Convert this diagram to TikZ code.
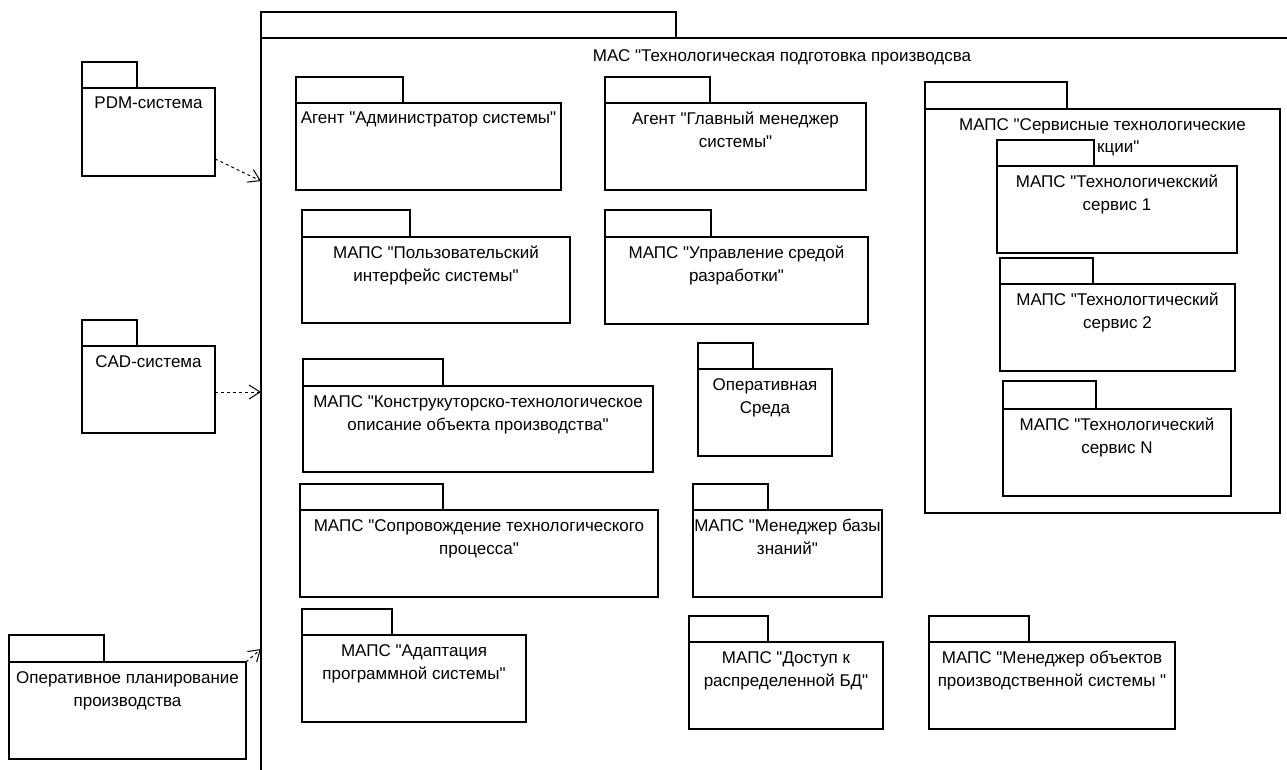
\documentclass[tikz,border=0pt]{standalone}
\usepackage{fontspec}
\setmainfont{Liberation Sans}[Ligatures=TeXOff]
\usetikzlibrary{arrows.meta}
\tikzset{
 pkgbox/.style={draw=black, fill=white, line width=1.1pt, inner sep=0pt, outer sep=0pt, anchor=north west},
 pkgtext/.style={align=center, inner sep=0pt, anchor=north, font=\fontsize{17}{23}\selectfont},
 dep/.style={draw=black, line width=1pt, dash pattern=on 3pt off 3pt, -{Straight Barb[length=11pt,width=14pt,line width=1pt]}}
}
\newcommand\pkg[8]{%
 \node[pkgbox, minimum width={#3-#2}, minimum height={#5-#4}] (#1tab) at (#2,#4) {};
 \node[pkgbox, minimum width={#6-#2}, minimum height={#7-#5}] (#1) at (#2,#5) {};
 \node[pkgtext] (#1txt) at ({(#2+#6)/2},{#5+9}) {#8};
}
\begin{document}
\begin{tikzpicture}[x=1pt,y=-1pt]
\useasboundingbox[fill=white] (0,0) rectangle (1287,769);
\clip (0,0) rectangle (1287,769);
% main package
\node[pkgbox, minimum width=415, minimum height=26] (mastab) at (261,12) {};
\node[pkgbox, minimum width=1100, minimum height=800] (mas) at (261,38) {};
\node[pkgtext] (mastitle) at (782,49) {МАС "Технологическая подготовка производсва};
% external packages
\pkg{pdm}{82}{137}{62}{88}{215}{176}{PDM-система}
\pkg{cad}{82}{137}{320}{346}{215}{433}{CAD-система}
\pkg{opl}{9}{104}{635}{662}{246}{759}{Оперативное планирование\\производства}
% inner packages
\pkg{admin}{296}{403}{77}{103}{561}{190}{Агент "Администратор системы"}
\pkg{glav}{605}{710}{77}{103}{866}{190}{Агент "Главный менеджер\\системы"}
\pkg{svc}{925}{1067}{82}{109}{1280}{513}{МАПС "Сервисные технологические}
\node[pkgtext, anchor=north west] (svctitle2) at (1097,141) {кции"};
\pkg{ts1}{997}{1094}{140}{166}{1237}{253}{МАПС "Технологичекский\\сервис 1}
\pkg{ts2}{1000}{1093}{258}{284}{1235}{371}{МАПС "Технологтический\\сервис 2}
\pkg{tsn}{1003}{1096}{381}{409}{1231}{496}{МАПС "Технологический\\сервис N}
\pkg{polz}{302}{410}{210}{237}{570}{323}{МАПС "Пользовательский\\интерфейс системы"}
\pkg{upr}{605}{711}{210}{237}{868}{324}{МАПС "Управление средой\\разработки"}
\pkg{kto}{303}{443}{359}{386}{653}{472}{МАПС "Конструкуторско-технологическое\\описание объекта производства"}
\pkg{opsr}{698}{753}{343}{369}{832}{456}{Оперативная\\Среда}
\pkg{soprov}{300}{443}{484}{510}{658}{597}{МАПС "Сопровождение технологического\\процесса"}
\pkg{mbz}{693}{768}{484}{510}{882}{597}{МАПС "Менеджер базы\\знаний"}
\pkg{adapt}{302}{392}{609}{635}{526}{722}{МАПС "Адаптация\\программной системы"}
\pkg{dost}{689}{768}{616}{642}{883}{729}{МАПС "Доступ к\\распределенной БД"}
\pkg{mobj}{929}{1029}{616}{642}{1175}{729}{МАПС "Менеджер объектов\\производственной системы "}
% dependencies
\draw[dep] (pdm.-22) -- ([yshift=-143pt]mas.north west);
\draw[dep] ([yshift=-2.5pt]cad.east) -- ([yshift=-354pt]mas.north west);
\draw[dep] (opl.north east) -- ([yshift=-611pt]mas.north west);
\end{tikzpicture}
\end{document}
